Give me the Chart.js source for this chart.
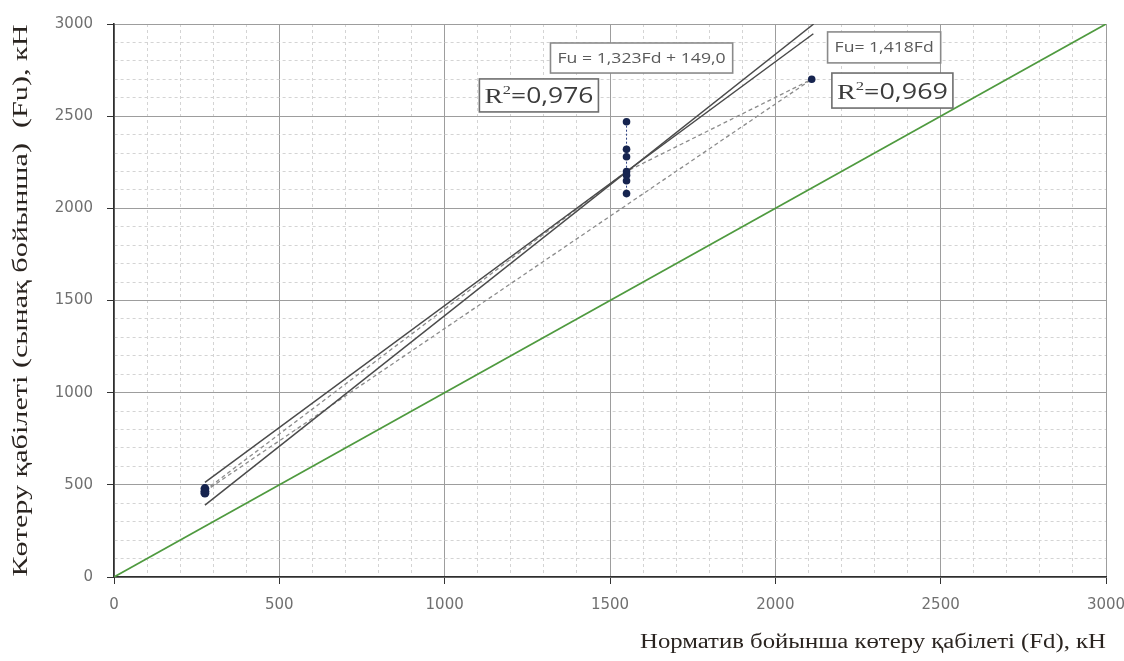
<!DOCTYPE html>
<html><head><meta charset="utf-8">
<script src="https://cdn.jsdelivr.net/npm/chart.js@4"></script>
<style>html,body{margin:0;padding:0;background:#fff}#wrap{width:1124px;height:661px}</style>
</head><body><div id="wrap"><canvas id="c" width="1124" height="661"></canvas></div>
<script>
// ---- texts ----
const xTitle = 'Норматив бойынша көтеру қабілеті (Fd), кН';
const yTitle = 'Көтеру қабілеті (сынақ бойынша)  (Fu), кН';
const majorStep = 500;
const minorStep = 100;
const axisMin = 0;
const axisMax = 3000;

// ---- test points (Fd, Fu) ----
const groupAx = [275, 275, 275];
const groupAy = [480, 465, 455];
const groupBx = [1550, 1550, 1550, 1550, 1550, 1550, 1550];
const groupBy = [2470, 2320, 2280, 2200, 2180, 2150, 2080];
const groupCx = [2110];
const groupCy = [2700];

// ---- line Fu = Fd ----
const normX = [0, 3000];
const normY = [0, 3000];
// ---- trend Fu = 1,323Fd + 149,0 ----
const reg1X = [275, 2115];
const reg1Y = [513, 2947];
// ---- trend Fu = 1,418Fd ----
const reg2X = [275, 2116];
const reg2Y = [390, 3000];
// ---- dashed connecting lines ----
const dashAX = [275, 1550, 2110];
const dashAY = [470, 2200, 2700];
const dashBX = [275, 2110];
const dashBY = [465, 2700];

// ---- annotation boxes (data units) ----
const annText  = ['Fu = 1,323Fd + 149,0', '=0,976', 'Fu= 1,418Fd', '=0,969'];
const annIsR2  = [false, true, false, true];
const annLeft  = [1320, 1105, 2158, 2171];
const annRight = [1871, 1465, 2500, 2537];
const annTop   = [2897, 2702, 2957, 2734];
const annBot   = [2734, 2523, 2789, 2544];

const pts = (xs, ys) => xs.map((x, i) => ({x: x, y: ys[i]}));
const isMajor = c => c.tick && c.tick.value % majorStep === 0;

function fitText(ctx, text, cx, cy, targetW) {
  const w = ctx.measureText(text).width;
  ctx.save();
  ctx.translate(cx, cy);
  ctx.scale(targetW / w, 1);
  ctx.textAlign = 'center';
  ctx.textBaseline = 'middle';
  ctx.fillText(text, 0, 0);
  ctx.restore();
}

const overlay = {
  id: 'overlay',
  afterDraw(chart) {
    const ctx = chart.ctx, ca = chart.chartArea;
    const xs = chart.scales.x, ys = chart.scales.y;
    ctx.save();
    // axis titles
    ctx.fillStyle = '#2a2420';
    ctx.font = '20px "Liberation Serif"';
    fitText(ctx, xTitle, ca.right - 233, ca.bottom + 66, 466);
    ctx.save();
    ctx.translate(22, (ca.top + ca.bottom) / 2);
    ctx.rotate(-Math.PI / 2);
    fitText(ctx, yTitle, 0, 0, 552);
    ctx.restore();

    // annotation boxes
    for (let i = 0; i < annText.length; i++) {
      const l = xs.getPixelForValue(annLeft[i]), r = xs.getPixelForValue(annRight[i]);
      const t = ys.getPixelForValue(annTop[i]), b = ys.getPixelForValue(annBot[i]);
      ctx.fillStyle = '#ffffff';
      ctx.fillRect(l, t, r - l, b - t);
      ctx.strokeStyle = annIsR2[i] ? '#6e6e6e' : '#8a8a8a';
      ctx.lineWidth = 1.6;
      ctx.strokeRect(l, t, r - l, b - t);
      const cx = (l + r) / 2, cy = (t + b) / 2;
      if (!annIsR2[i]) {
        ctx.fillStyle = '#5a5a5a';
        ctx.font = '14px "Open Sans"';
        fitText(ctx, annText[i], cx, cy + 1, (r - l) - 14);
      } else {
        ctx.fillStyle = '#3c3c3c';
        const fR = '22px "Liberation Serif"', fS = '13px "Liberation Serif"', fN = '21px "Open Sans"';
        ctx.font = fR; const wR = ctx.measureText('R').width;
        ctx.font = fS; const wS = ctx.measureText('2').width;
        ctx.font = fN; const wN = ctx.measureText(annText[i]).width;
        const total = wR + wS + wN, target = (r - l) - 10;
        const sx = target / total;
        ctx.save();
        ctx.translate(cx - target / 2, cy + 8);
        ctx.scale(sx, 1);
        ctx.textAlign = 'left';
        ctx.textBaseline = 'alphabetic';
        ctx.font = fR; ctx.fillText('R', 0, 0);
        ctx.font = fS; ctx.fillText('2', wR, -9);
        ctx.font = fN; ctx.fillText(annText[i], wR + wS, 0);
        ctx.restore();
      }
    }
    ctx.restore();
  }
};

const axisCommon = {
  type: 'linear', min: axisMin, max: axisMax,
  ticks: {
    stepSize: minorStep, autoSkip: false, maxRotation: 0, minRotation: 0,
    callback: v => (v % majorStep === 0 ? String(v) : ''),
    font: {family: 'DejaVu Sans', size: 15}, color: '#707070'
  },
  grid: {
    color: c => isMajor(c) ? '#9d9d9d' : '#d4d4d4',
    lineWidth: 1, tickLength: 7,
    tickColor: c => isMajor(c) ? '#333333' : 'rgba(0,0,0,0)'
  },
  border: {
    color: '#2e2e2e', width: 1.6,
    dash: c => (c.tick && c.tick.value % majorStep !== 0) ? [3, 3] : []
  }
};

new Chart(document.getElementById('c'), {
  type: 'scatter',
  data: {
    datasets: [
      {data: pts(groupBx, groupBy), showLine: true, borderDash: [2, 2], borderColor: '#2b3f80', borderWidth: 1,
       backgroundColor: '#16244f', pointBorderColor: '#16244f', pointRadius: 3.8, pointBorderWidth: 0},
      {data: pts(groupAx, groupAy), showLine: true, borderColor: '#16244f', borderWidth: 1,
       backgroundColor: '#16244f', pointBorderColor: '#16244f', pointRadius: 4.4, pointBorderWidth: 0},
      {data: pts(groupCx, groupCy), showLine: false,
       backgroundColor: '#16244f', pointBorderColor: '#16244f', pointRadius: 3.8, pointBorderWidth: 0},
      {data: pts(reg1X, reg1Y), showLine: true, borderColor: '#4a4a4a', borderWidth: 1.5, pointRadius: 0},
      {data: pts(reg2X, reg2Y), showLine: true, borderColor: '#4a4a4a', borderWidth: 1.5, pointRadius: 0},
      {data: pts(dashAX, dashAY), showLine: true, borderColor: '#8c8c8c', borderWidth: 1.3, borderDash: [4, 3], pointRadius: 0},
      {data: pts(dashBX, dashBY), showLine: true, borderColor: '#8c8c8c', borderWidth: 1.3, borderDash: [4, 3], pointRadius: 0},
      {data: pts(normX, normY), showLine: true, borderColor: '#4f9a3f', borderWidth: 1.7, pointRadius: 0}
    ]
  },
  options: {
    responsive: false, devicePixelRatio: 1, animation: false,
    layout: {padding: {top: 24, right: 0, left: 0, bottom: 0}},
    plugins: {legend: {display: false}, tooltip: {enabled: false}},
    scales: {
      x: Object.assign({}, axisCommon, {
        position: 'bottom',
        ticks: Object.assign({}, axisCommon.ticks, {padding: 12}),
        afterFit: s => { s.height = 84; s.paddingRight = 18; s.paddingLeft = 0; }
      }),
      y: Object.assign({}, axisCommon, {
        position: 'left',
        ticks: Object.assign({}, axisCommon.ticks, {padding: 14}),
        afterFit: s => { s.width = 114; s.paddingTop = 0; s.paddingBottom = 0; }
      })
    }
  },
  plugins: [overlay]
});
</script>
</body></html>
